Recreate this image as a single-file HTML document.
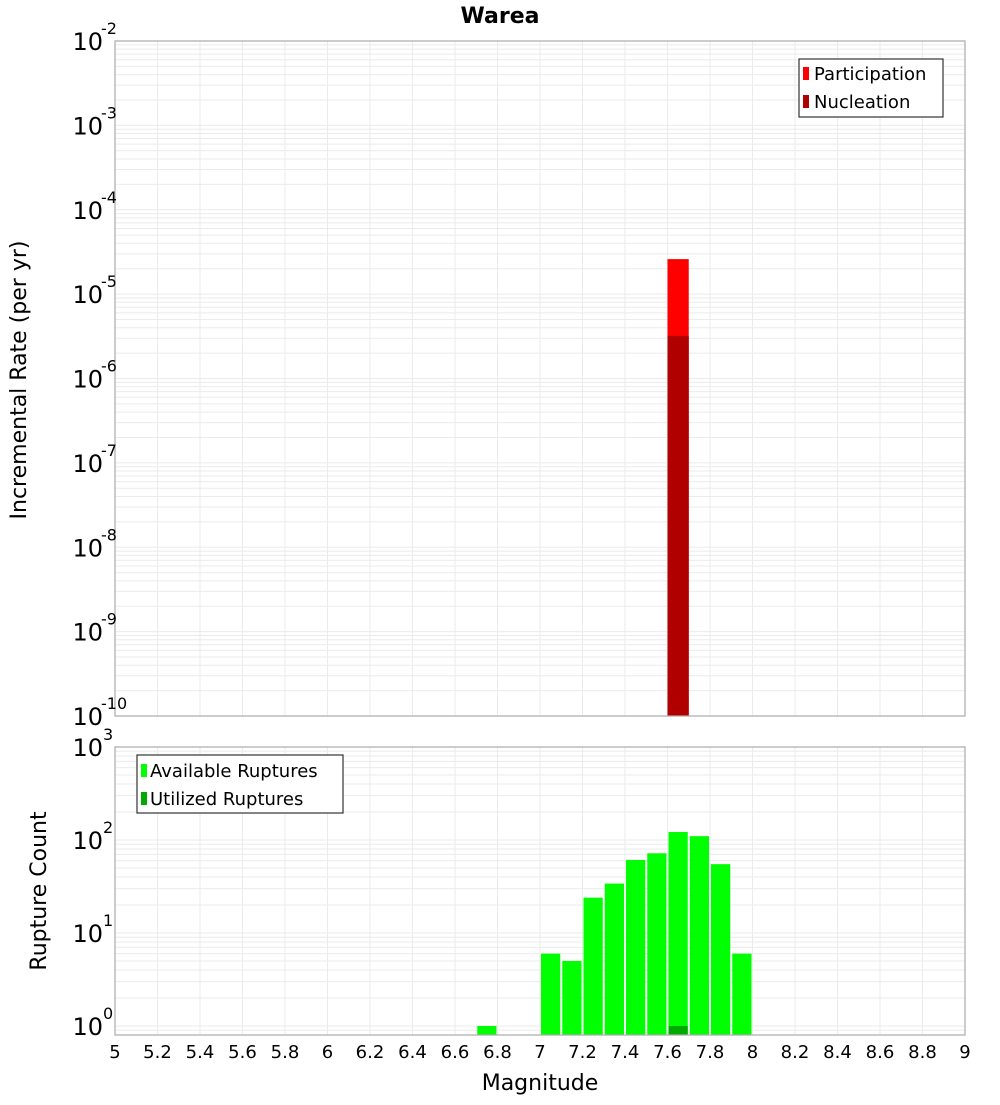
<!DOCTYPE html>
<html><head><meta charset="utf-8"><style>
body{margin:0;background:#fff;font-family:"Liberation Sans","DejaVu Sans",sans-serif}
svg text{font-family:"DejaVu Sans","Liberation Sans",sans-serif}
</style></head><body>
<svg id="c" width="1000" height="1100" xmlns="http://www.w3.org/2000/svg">
<text x="500" y="23" text-anchor="middle" font-size="22" font-weight="bold">Warea</text>
<g id="g"></g>
<text transform="translate(26,380) rotate(-90)" text-anchor="middle" font-size="22">Incremental Rate (per yr)</text>
<text transform="translate(46,891) rotate(-90)" text-anchor="middle" font-size="22">Rupture Count</text>
<text x="540" y="1090" text-anchor="middle" font-size="22">Magnitude</text>
<g>
<rect x="799" y="59" width="144" height="58" fill="#fff" stroke="#333" stroke-width="1.2"/>
<rect x="803" y="67" width="6" height="13" fill="#ff0000"/>
<text x="814" y="80" font-size="18">Participation</text>
<rect x="803" y="95" width="6" height="13" fill="#b00000"/>
<text x="814" y="108" font-size="18">Nucleation</text>
</g>
<g>
<rect x="137" y="755" width="206" height="58" fill="#fff" stroke="#333" stroke-width="1.2"/>
<rect x="141" y="764" width="6" height="13" fill="#00ff00"/>
<text x="150" y="777" font-size="18">Available Ruptures</text>
<rect x="141" y="792" width="6" height="13" fill="#00aa00"/>
<text x="150" y="805" font-size="18">Utilized Ruptures</text>
</g>
</svg>
<script>
const partMags=[7.65], partVals=[2.6e-5];
const nuclMags=[7.65], nuclVals=[3.2e-6];
const availMags=[6.75,7.05,7.15,7.25,7.35,7.45,7.55,7.65,7.75,7.85,7.95];
const availVals=[1,6,5,24,34,61,72,122,110,55,6];
const utilMags=[7.65], utilVals=[1];
const xTicks=["5","5.2","5.4","5.6","5.8","6","6.2","6.4","6.6","6.8","7","7.2","7.4","7.6","7.8","8","8.2","8.4","8.6","8.8","9"];
const topExps=[-2,-3,-4,-5,-6,-7,-8,-9,-10];
const botExps=[3,2,1,0];

const NS="http://www.w3.org/2000/svg", g=document.getElementById('g');
function el(t,a,p){const e=document.createElementNS(NS,t);for(const k in a)e.setAttribute(k,a[k]);(p||g).appendChild(e);return e;}
const L=115,R=965;
const X=m=>L+(m-5)/4*(R-L);
const T0=41,T1=716, yT=v=>T0+(-2-Math.log10(v))/8*(T1-T0);
const B0=747,B1=1035, yB=v=>1026-Math.log10(v)*93;

function grid(top,bot,yf,lo,hi){
 for(let i=0;i<xTicks.length;i++){const x=X(+xTicks[i]);const l=el('line',{x1:x,x2:x,y1:top,y2:bot,stroke:'#ebebeb'});
 }
 for(let e=lo;e<hi;e++)for(let k=1;k<10;k++){const y=yf(k*Math.pow(10,e));if(y<top||y>bot)continue;
 const l=el('line',{x1:L,x2:R,y1:y,y2:y,stroke:'#ebebeb'});}
}
grid(T0,T1,yT,-10,-2);
grid(B0,B1,yB,-1,3);

function bar(m,v,yf,base,fill,gap,name){const w=(R-L)/40;const y=yf(v);
 const r=el('rect',{x:X(m)-w/2+gap,y:y,width:w-2*gap,height:base-y,fill:fill});
 }
partMags.forEach((m,i)=>bar(m,partVals[i],yT,T1,'#ff0000',0,'participation-bar'));
nuclMags.forEach((m,i)=>bar(m,nuclVals[i],yT,T1,'#b00000',0,'nucleation-bar'));
availMags.forEach((m,i)=>bar(m,availVals[i],yB,B1,'#00ff00',1,'available-bar'));
utilMags.forEach((m,i)=>bar(m,utilVals[i],yB,B1,'#00aa00',1,'utilized-bar'));

[[T0,T1],[B0,B1]].forEach(([a,b])=>{const r=el('rect',{x:L,y:a,width:R-L,height:b-a,fill:'none',stroke:'#aaa','stroke-width':1.2});
 });

function ylab(y,e){const t=el('text',{x:103,y:y+9,'text-anchor':'end','font-size':24});
 
 t.textContent='10';const s=el('text',{x:103,y:y-7,'font-size':16},g);s.textContent=String(e);
 
 if(String(e).startsWith('-'))s.setAttribute('x',101);}
topExps.forEach(e=>ylab(yT(Math.pow(10,e)),e));
botExps.forEach(e=>ylab(yB(Math.pow(10,e)),e));
xTicks.forEach(s=>{const t=el('text',{x:X(+s),y:1058,'text-anchor':'middle','font-size':18});t.textContent=s;
 });
</script>
</body></html>
